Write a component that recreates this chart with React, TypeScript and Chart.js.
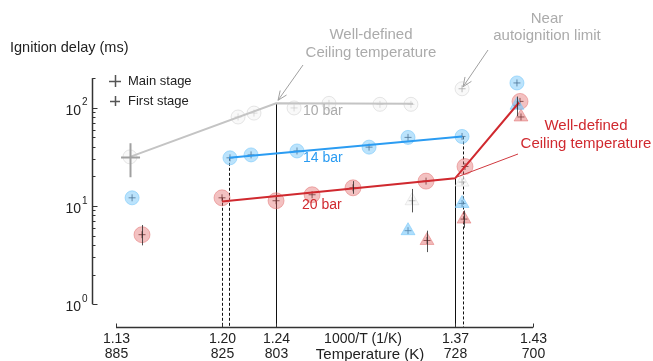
import React, { useEffect, useRef } from "react";
import { Chart, registerables } from "chart.js";
Chart.register(...registerables);

const FONT = '"Liberation Sans", Arial, Helvetica, sans-serif';

// axis ranges (1000/T in 1/K, ignition delay in ms)
const X_MIN = 1.1128;
const X_MAX = 1.4286;
const Y_MIN = 0.572;
const Y_MAX = 1012;
const Y_AXIS_TOP = 200;

const xTickValues = [1.13, 1.2059, 1.2446, 1.3728, 1.4286];
const xTickLabels = ["1.13", "1.20", "1.24", "1.37", "1.43"];
const tempTickLabels = ["885", "825", "803", "728", "700"];
const yMajorTicks = [1, 10, 100];
const yMajorExp = ["0", "1", "2"];

// 10 bar main stage
const bar10X = [1.14, 1.2174, 1.2288, 1.2575, 1.2825, 1.319, 1.3412];
const bar10Y = [31.6, 80.5, 88.2, 99.5, 110.8, 108.3, 108.3];
const bar10LimitX = [1.3778];
const bar10LimitY = [156];
// 10 bar first stage
const bar10FirstX = [1.342, 1.3778];
const bar10FirstY = [11.3, 17.5];
// 10 bar trend
const bar10LineX = [1.14, 1.2446, 1.3427];
const bar10LineY = [31.6, 111, 110];

// 14 bar main stage
const bar14X = [1.1415, 1.2116, 1.2267, 1.2596, 1.3112, 1.3391, 1.3778, 1.4171];
const bar14Y = [12.1, 30.9, 33.1, 36.3, 39.7, 49.9, 51.0, 178.8];
// 14 bar first stage
const bar14FirstX = [1.3391, 1.3778, 1.4171];
const bar14FirstY = [5.6, 10.6, 106];
// 14 bar trend
const bar14LineX = [1.2109, 1.3778];
const bar14LineY = [30.9, 51.0];

// 20 bar main stage
const bar20X = [1.1486, 1.2059, 1.2446, 1.2704, 1.2997, 1.352, 1.3799, 1.4193];
const bar20Y = [5.1, 12.1, 11.3, 13.0, 15.3, 17.9, 25.2, 116];
// 20 bar first stage
const bar20FirstX = [1.3527, 1.3792, 1.42];
const bar20FirstY = [4.45, 7.35, 80.5];
// 20 bar trend
const bar20LineX = [1.2059, 1.3728, 1.4186];
const bar20LineY = [11.1, 19.1, 113];

// vertical guide lines (ceiling temperatures)
const guideX = [1.2059, 1.2109, 1.2446, 1.3728, 1.3785];
const guideTop = [12.1, 30.9, 111, 19.1, 51.0];
const guideDashed = [true, true, false, false, true];

// larger error bars
const errX = [1.14, 1.1486, 1.2997, 1.342, 1.3527, 1.3792, 1.4171];
const errLo = [19.6, 3.97, 13.3, 8.6, 3.39, 6.0, 82];
const errHi = [43.5, 6.4, 17.9, 14.9, 5.6, 9.0, 130];
const errXLo = [1.1336];
const errXHi = [1.1472];
const errXY = [31.6];

const pts = (xs: number[], ys: number[]) => xs.map((x, i) => ({ x, y: ys[i] }));

const GRAY = "#ababab";
const BLUE = "#2b9cf2";
const RED = "#d0292f";

const overlayPlugin = {
  id: "overlay",
  beforeDatasetsDraw(chart: any) {
    const { ctx } = chart;
    const xs = chart.scales.x;
    const ys = chart.scales.y;
    ctx.save();
    ctx.strokeStyle = "#111";
    ctx.lineWidth = 1;
    guideX.forEach((gx, i) => {
      const px = Math.round(xs.getPixelForValue(gx)) + 0.5;
      ctx.setLineDash(guideDashed[i] ? [3, 2] : []);
      ctx.beginPath();
      ctx.moveTo(px, ys.getPixelForValue(guideTop[i]));
      ctx.lineTo(px, ys.getPixelForValue(Y_MIN));
      ctx.stroke();
    });
    ctx.setLineDash([]);
    ctx.restore();
  },
  afterDatasetsDraw(chart: any) {
    const { ctx, chartArea } = chart;
    const xs = chart.scales.x;
    const ys = chart.scales.y;
    ctx.save();

    // error bars
    errX.forEach((ex, i) => {
      const px = Math.round(xs.getPixelForValue(ex)) + 0.5;
      ctx.strokeStyle = i === 0 ? "#a0a0a0" : "rgba(40,40,40,0.8)";
      ctx.lineWidth = i === 0 ? 2 : 1;
      ctx.beginPath();
      ctx.moveTo(px, ys.getPixelForValue(errLo[i]));
      ctx.lineTo(px, ys.getPixelForValue(errHi[i]));
      ctx.stroke();
    });
    errXY.forEach((ey, i) => {
      const py = Math.round(ys.getPixelForValue(ey)) + 0.5;
      ctx.strokeStyle = "#a0a0a0";
      ctx.lineWidth = 2;
      ctx.beginPath();
      ctx.moveTo(xs.getPixelForValue(errXLo[i]), py);
      ctx.lineTo(xs.getPixelForValue(errXHi[i]), py);
      ctx.stroke();
    });

    // y axis
    const ax = chartArea.left + 0.5;
    ctx.strokeStyle = "#333";
    ctx.lineWidth = 1.5;
    ctx.beginPath();
    ctx.moveTo(ax, ys.getPixelForValue(1));
    ctx.lineTo(ax, ys.getPixelForValue(Y_AXIS_TOP));
    ctx.stroke();
    ctx.lineWidth = 1;
    for (let d = 0; d <= 2; d++) {
      for (let m = 1; m <= 9; m++) {
        const v = m * Math.pow(10, d);
        if (v > Y_AXIS_TOP) continue;
        const py = Math.round(ys.getPixelForValue(v)) + 0.5;
        ctx.beginPath();
        ctx.moveTo(ax, py);
        ctx.lineTo(ax + (m === 1 ? 5 : 3), py);
        ctx.stroke();
      }
    }
    ctx.fillStyle = "#222";
    ctx.textBaseline = "middle";
    yMajorTicks.forEach((v, i) => {
      const py = ys.getPixelForValue(v);
      ctx.font = `14px ${FONT}`;
      ctx.textAlign = "right";
      ctx.fillText("10", 81, py + 3);
      ctx.font = `10px ${FONT}`;
      ctx.textAlign = "left";
      ctx.fillText(yMajorExp[i], 82, py - 5);
    });

    // x axis
    const by = chartArea.bottom - 0.5;
    ctx.strokeStyle = "#333";
    ctx.lineWidth = 1.5;
    ctx.beginPath();
    ctx.moveTo(xs.getPixelForValue(xTickValues[0]), by);
    ctx.lineTo(xs.getPixelForValue(xTickValues[xTickValues.length - 1]), by);
    ctx.stroke();
    ctx.lineWidth = 1;
    ctx.font = `14px ${FONT}`;
    ctx.textAlign = "center";
    xTickValues.forEach((v, i) => {
      const px = Math.round(xs.getPixelForValue(v)) + 0.5;
      ctx.beginPath();
      ctx.moveTo(px, by);
      ctx.lineTo(px, by - 4);
      ctx.stroke();
      ctx.fillText(xTickLabels[i], px, 339);
      ctx.fillText(tempTickLabels[i], px, 354);
    });
    ctx.fillText("1000/T (1/K)", 363, 339);
    ctx.font = `15px ${FONT}`;
    ctx.fillText("Temperature (K)", 370, 355);

    // y title
    ctx.textAlign = "left";
    ctx.font = `14.5px ${FONT}`;
    ctx.fillText("Ignition delay (ms)", 10, 48);

    // legend
    ctx.strokeStyle = "#555";
    ctx.lineWidth = 1.5;
    [81, 101].forEach((ly, i) => {
      const h = i === 0 ? 6 : 5;
      ctx.beginPath();
      ctx.moveTo(115 - h, ly + 0.5);
      ctx.lineTo(115 + h, ly + 0.5);
      ctx.moveTo(115.5, ly - h);
      ctx.lineTo(115.5, ly + h);
      ctx.stroke();
    });
    ctx.fillStyle = "#222";
    ctx.font = `13px ${FONT}`;
    ctx.fillText("Main stage", 128, 81);
    ctx.fillText("First stage", 128, 101);

    // series labels
    ctx.font = `14px ${FONT}`;
    ctx.fillStyle = GRAY;
    ctx.fillText("10 bar", 303, 111);
    ctx.fillStyle = BLUE;
    ctx.fillText("14 bar", 303, 158);
    ctx.fillStyle = RED;
    ctx.fillText("20 bar", 302, 205);

    // annotations
    ctx.font = `15px ${FONT}`;
    ctx.textAlign = "center";
    ctx.fillStyle = GRAY;
    ctx.fillText("Well-defined", 371, 35);
    ctx.fillText("Ceiling temperature", 371, 53);
    ctx.fillText("Near", 547, 19);
    ctx.fillText("autoignition limit", 547, 36);
    ctx.fillStyle = RED;
    ctx.fillText("Well-defined", 586, 126);
    ctx.fillText("Ceiling temperature", 586, 144);

    const arrow = (x0: number, y0: number, x1: number, y1: number, color: string, head: boolean) => {
      ctx.strokeStyle = color;
      ctx.lineWidth = 1;
      ctx.beginPath();
      ctx.moveTo(x0, y0);
      ctx.lineTo(x1, y1);
      if (head) {
        const a = Math.atan2(y1 - y0, x1 - x0);
        const L = 10;
        ctx.moveTo(x1, y1);
        ctx.lineTo(x1 - L * Math.cos(a - 0.4), y1 - L * Math.sin(a - 0.4));
        ctx.moveTo(x1, y1);
        ctx.lineTo(x1 - L * Math.cos(a + 0.4), y1 - L * Math.sin(a + 0.4));
      }
      ctx.stroke();
    };
    const k10x = xs.getPixelForValue(bar10LineX[1]);
    const k10y = ys.getPixelForValue(bar10LineY[1]);
    arrow(303, 65, k10x + 2, k10y - 3, "#a0a0a0", true);
    const lx = xs.getPixelForValue(bar10LimitX[0]);
    const ly = ys.getPixelForValue(bar10LimitY[0]);
    arrow(488, 50, lx + 1, ly - 2, "#a0a0a0", true);
    const k20x = xs.getPixelForValue(bar20LineX[1]);
    const k20y = ys.getPixelForValue(bar20LineY[1]);
    arrow(518, 154, k20x + 1, k20y - 1, "#d0393f", false);

    ctx.restore();
  },
};

export default function App() {
  const ref = useRef<HTMLCanvasElement | null>(null);
  useEffect(() => {
    if (!ref.current) return;
    const line = (xs: number[], ys: number[], color: string, width: number) => ({
      type: "line" as const,
      data: pts(xs, ys),
      showLine: true,
      borderColor: color,
      borderWidth: width,
      pointRadius: 0,
      fill: false,
      tension: 0,
      clip: false as const,
    });
    const marks = (xs: number[], ys: number[], style: string, r: number, fill: string, border: string) => ({
      data: pts(xs, ys),
      showLine: false,
      pointStyle: style,
      pointRadius: r,
      backgroundColor: fill,
      borderColor: border,
      borderWidth: 1,
      clip: false as const,
    });
    const cross = (xs: number[], ys: number[], color: string) => ({
      data: pts(xs, ys),
      showLine: false,
      pointStyle: "cross",
      pointRadius: 3.5,
      borderColor: color,
      borderWidth: 1,
      clip: false as const,
    });
    const chart = new Chart(ref.current, {
      type: "scatter",
      data: {
        datasets: [
          line(bar10LineX, bar10LineY, "#c4c4c4", 2),
          line(bar14LineX, bar14LineY, BLUE, 2),
          line(bar20LineX, bar20LineY, RED, 2),
          marks(bar10X, bar10Y, "circle", 7, "rgba(245,245,245,0.6)", "rgba(200,200,200,0.45)"),
          marks(bar10LimitX, bar10LimitY, "circle", 7, "rgba(245,245,245,0.6)", "rgba(200,200,200,0.45)"),
          marks(bar10FirstX, bar10FirstY, "triangle", 8, "rgba(245,245,245,0.6)", "rgba(210,210,210,0.45)"),
          marks(bar14X, bar14Y, "circle", 7, "rgba(120,200,250,0.5)", "rgba(120,200,250,0.6)"),
          marks(bar14FirstX, bar14FirstY, "triangle", 8, "rgba(120,200,250,0.6)", "rgba(120,200,250,0.6)"),
          marks(bar20X, bar20Y, "circle", 8, "rgba(225,100,100,0.4)", "rgba(225,100,100,0.45)"),
          marks(bar20FirstX, bar20FirstY, "triangle", 8, "rgba(225,100,100,0.45)", "rgba(225,100,100,0.45)"),
          cross(bar10X.slice(1), bar10Y.slice(1), "rgba(120,120,120,0.6)"),
          cross(bar10LimitX, bar10LimitY, "rgba(60,60,60,0.8)"),
          cross(bar10FirstX, bar10FirstY, "rgba(60,60,60,0.75)"),
          cross(bar14X, bar14Y, "rgba(30,30,50,0.8)"),
          cross(bar14FirstX, bar14FirstY, "rgba(30,30,50,0.8)"),
          cross(bar20X, bar20Y, "rgba(40,20,20,0.8)"),
          cross(bar20FirstX, bar20FirstY, "rgba(40,20,20,0.8)"),
        ] as any,
      },
      options: {
        animation: false,
        responsive: false,
        events: [],
        layout: { padding: { left: 92, right: 120, top: 0, bottom: 33 } },
        plugins: {
          legend: { display: false },
          tooltip: { enabled: false },
          title: { display: false },
        },
        scales: {
          x: { type: "linear", min: X_MIN, max: X_MAX, display: false },
          y: { type: "logarithmic", min: Y_MIN, max: Y_MAX, display: false },
        },
      },
      plugins: [overlayPlugin],
    });
    return () => chart.destroy();
  }, []);
  return (
    <div style={{ position: "fixed", left: 0, top: 0, width: 653, height: 361, background: "#fff" }}>
      <canvas ref={ref} width={653} height={361} />
    </div>
  );
}
